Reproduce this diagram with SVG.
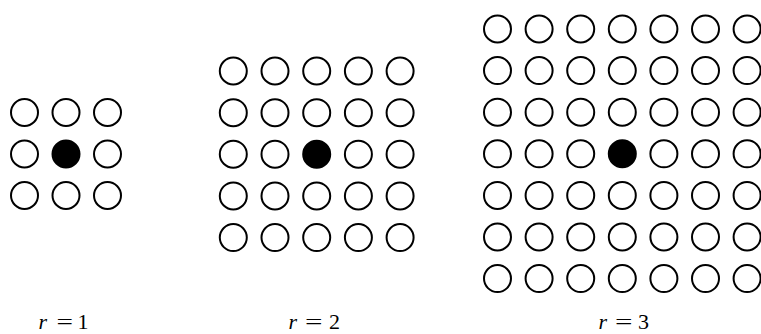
<svg xmlns="http://www.w3.org/2000/svg" xmlns:xlink="http://www.w3.org/1999/xlink" width="761" height="334" viewBox="0 0 761 334">
<style>
  .o { fill: #ffffff; stroke: #000000; stroke-width: 2; }
  .c { fill: #000000; stroke: #000000; stroke-width: 2; }
  .lbl { font-family: "Liberation Serif", "Times New Roman", serif; font-size: 22px; fill: #000000; }
  .it { font-style: italic; }
</style>
<defs>
  <circle id="o" r="13.5" class="o"/>
  <circle id="c" r="13.5" class="c"/>
</defs>
<rect x="0" y="0" width="761" height="334" fill="#ffffff"/>

<g id="grid-r1">
  <use xlink:href="#o" x="24.5" y="112.5"/>
  <use xlink:href="#o" x="66" y="112.5"/>
  <use xlink:href="#o" x="107.5" y="112.5"/>
  <use xlink:href="#o" x="24.5" y="154"/>
  <use xlink:href="#c" x="66" y="154"/>
  <use xlink:href="#o" x="107.5" y="154"/>
  <use xlink:href="#o" x="24.5" y="195.5"/>
  <use xlink:href="#o" x="66" y="195.5"/>
  <use xlink:href="#o" x="107.5" y="195.5"/>
</g>

<g id="grid-r2">
  <g transform="translate(233.3,71)">
    <use xlink:href="#o" x="0" y="0"/><use xlink:href="#o" x="41.7" y="0"/><use xlink:href="#o" x="83.4" y="0"/><use xlink:href="#o" x="125.1" y="0"/><use xlink:href="#o" x="166.8" y="0"/>
    <use xlink:href="#o" x="0" y="41.7"/><use xlink:href="#o" x="41.7" y="41.7"/><use xlink:href="#o" x="83.4" y="41.7"/><use xlink:href="#o" x="125.1" y="41.7"/><use xlink:href="#o" x="166.8" y="41.7"/>
    <use xlink:href="#o" x="0" y="83.2"/><use xlink:href="#o" x="41.7" y="83.2"/><use xlink:href="#c" x="83.4" y="83.2"/><use xlink:href="#o" x="125.1" y="83.2"/><use xlink:href="#o" x="166.8" y="83.2"/>
    <use xlink:href="#o" x="0" y="124.9"/><use xlink:href="#o" x="41.7" y="124.9"/><use xlink:href="#o" x="83.4" y="124.9"/><use xlink:href="#o" x="125.1" y="124.9"/><use xlink:href="#o" x="166.8" y="124.9"/>
    <use xlink:href="#o" x="0" y="166.6"/><use xlink:href="#o" x="41.7" y="166.6"/><use xlink:href="#o" x="83.4" y="166.6"/><use xlink:href="#o" x="125.1" y="166.6"/><use xlink:href="#o" x="166.8" y="166.6"/>
  </g>
</g>

<g id="grid-r3">
  <g transform="translate(497.5,29)">
    <use xlink:href="#o" x="0" y="0"/><use xlink:href="#o" x="41.6" y="0"/><use xlink:href="#o" x="83.2" y="0"/><use xlink:href="#o" x="124.8" y="0"/><use xlink:href="#o" x="166.4" y="0"/><use xlink:href="#o" x="208" y="0"/><use xlink:href="#o" x="249.6" y="0"/>
    <use xlink:href="#o" x="0" y="41.6"/><use xlink:href="#o" x="41.6" y="41.6"/><use xlink:href="#o" x="83.2" y="41.6"/><use xlink:href="#o" x="124.8" y="41.6"/><use xlink:href="#o" x="166.4" y="41.6"/><use xlink:href="#o" x="208" y="41.6"/><use xlink:href="#o" x="249.6" y="41.6"/>
    <use xlink:href="#o" x="0" y="83.2"/><use xlink:href="#o" x="41.6" y="83.2"/><use xlink:href="#o" x="83.2" y="83.2"/><use xlink:href="#o" x="124.8" y="83.2"/><use xlink:href="#o" x="166.4" y="83.2"/><use xlink:href="#o" x="208" y="83.2"/><use xlink:href="#o" x="249.6" y="83.2"/>
    <use xlink:href="#o" x="0" y="124.8"/><use xlink:href="#o" x="41.6" y="124.8"/><use xlink:href="#o" x="83.2" y="124.8"/><use xlink:href="#c" x="124.8" y="124.8"/><use xlink:href="#o" x="166.4" y="124.8"/><use xlink:href="#o" x="208" y="124.8"/><use xlink:href="#o" x="249.6" y="124.8"/>
    <use xlink:href="#o" x="0" y="166.4"/><use xlink:href="#o" x="41.6" y="166.4"/><use xlink:href="#o" x="83.2" y="166.4"/><use xlink:href="#o" x="124.8" y="166.4"/><use xlink:href="#o" x="166.4" y="166.4"/><use xlink:href="#o" x="208" y="166.4"/><use xlink:href="#o" x="249.6" y="166.4"/>
    <use xlink:href="#o" x="0" y="208"/><use xlink:href="#o" x="41.6" y="208"/><use xlink:href="#o" x="83.2" y="208"/><use xlink:href="#o" x="124.8" y="208"/><use xlink:href="#o" x="166.4" y="208"/><use xlink:href="#o" x="208" y="208"/><use xlink:href="#o" x="249.6" y="208"/>
    <use xlink:href="#o" x="0" y="249.6"/><use xlink:href="#o" x="41.6" y="249.6"/><use xlink:href="#o" x="83.2" y="249.6"/><use xlink:href="#o" x="124.8" y="249.6"/><use xlink:href="#o" x="166.4" y="249.6"/><use xlink:href="#o" x="208" y="249.6"/><use xlink:href="#o" x="249.6" y="249.6"/>
  </g>
</g>

<g id="labels">
  <text class="lbl" x="38.5" y="329"><tspan class="it">r</tspan></text>
  <text class="lbl" x="56.5" y="329" textLength="16.5" lengthAdjust="spacingAndGlyphs">=</text>
  <text class="lbl" x="77.5" y="329">1</text>
  <text class="lbl" x="288.5" y="329"><tspan class="it">r</tspan></text>
  <text class="lbl" x="305" y="329" textLength="17.5" lengthAdjust="spacingAndGlyphs">=</text>
  <text class="lbl" x="329" y="329">2</text>
  <text class="lbl" x="598.5" y="329"><tspan class="it">r</tspan></text>
  <text class="lbl" x="615" y="329" textLength="17.5" lengthAdjust="spacingAndGlyphs">=</text>
  <text class="lbl" x="638" y="329">3</text>
</g>
</svg>
